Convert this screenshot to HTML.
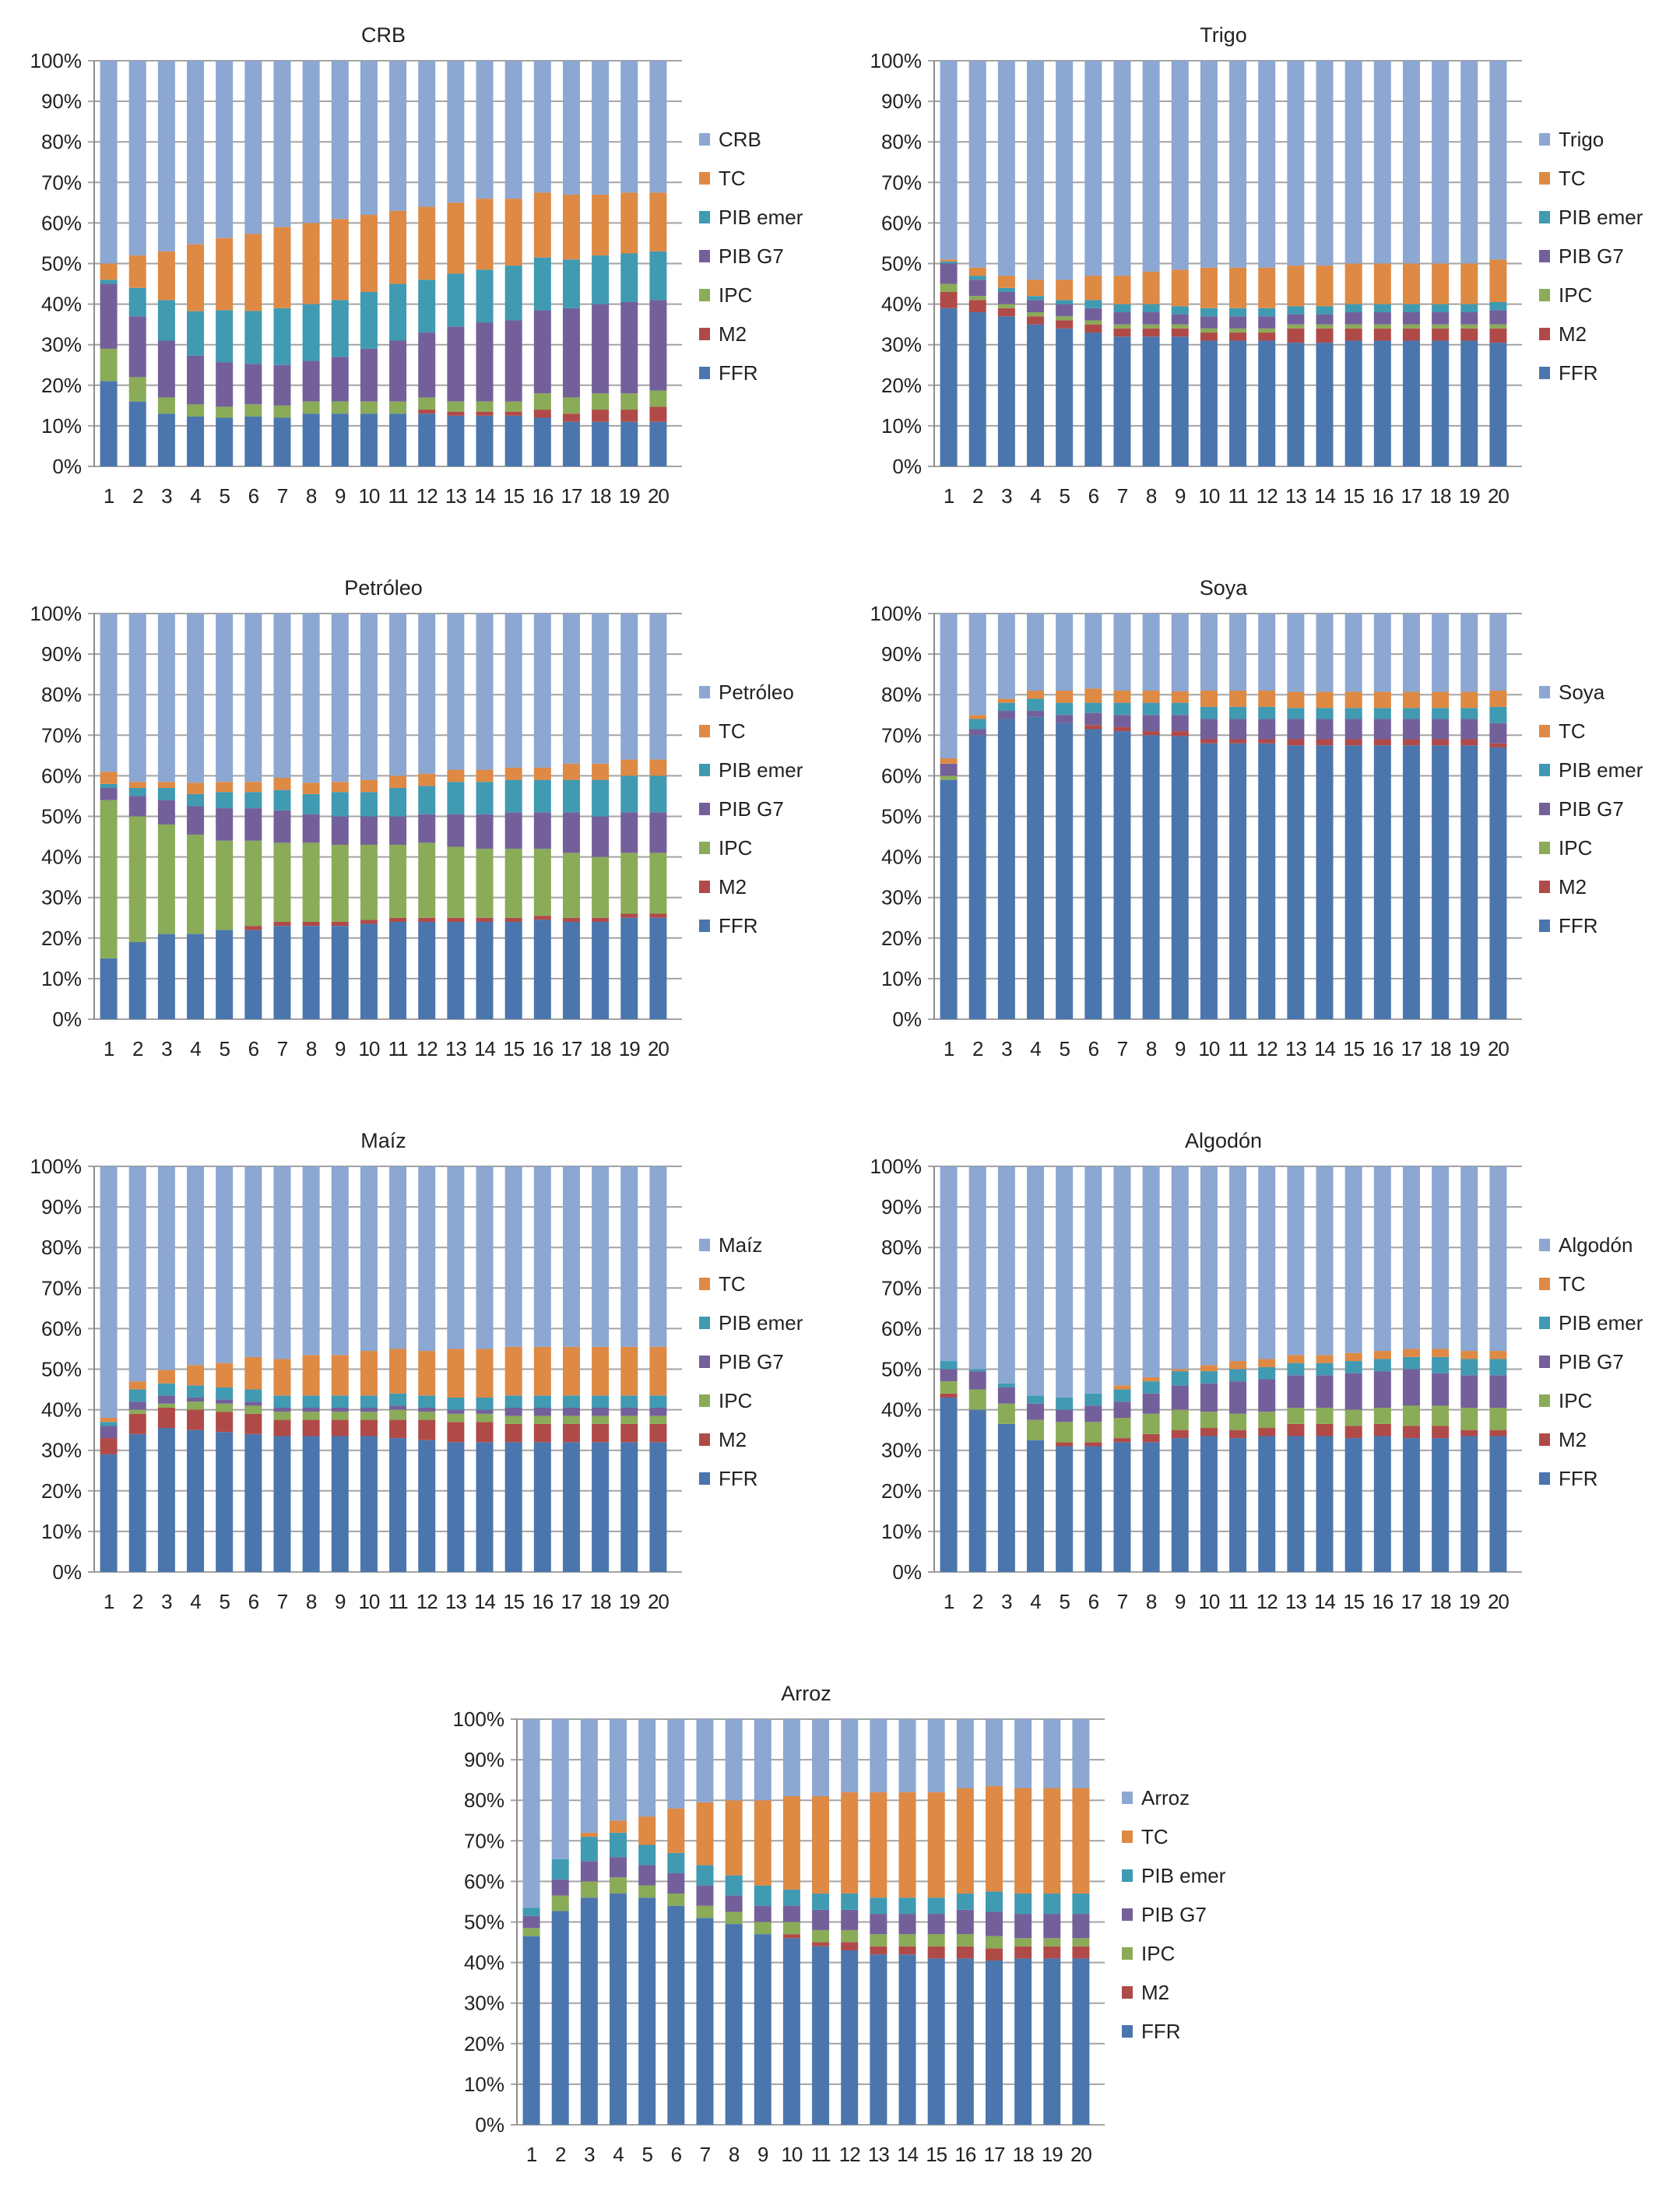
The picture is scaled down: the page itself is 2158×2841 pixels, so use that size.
<!DOCTYPE html>
<html><head><meta charset="utf-8">
<style>
html,body{margin:0;padding:0;background:#fff;}
svg{display:block;}
text{font-family:"Liberation Sans",sans-serif;fill:#222;}
</style></head>
<body>
<svg id="root" width="2158" height="2841" viewBox="0 0 2158 2841" xmlns="http://www.w3.org/2000/svg"></svg>
<script>
// Shared
const categories = [1,2,3,4,5,6,7,8,9,10,11,12,13,14,15,16,17,18,19,20];
const seriesNames = ["FFR","M2","IPC","PIB G7","PIB emer","TC"];
const seriesColors = ["#4a76ad","#b04a48","#8aab58","#73609a","#3f9ab2","#de8944","#8ba7d2"];
const yTickLabels = ["0%","10%","20%","30%","40%","50%","60%","70%","80%","90%","100%"];
const chartTitles = ["CRB","Trigo","Petróleo","Soya","Maíz","Algodón","Arroz"];

// Series order: FFR, M2, IPC, PIB G7, PIB emer, TC, commodity
const crbValues = [
 [21,16,13,12.3,12,12.3,12,13,13,13,13,13,12.5,12.5,12.5,12,11,11,11,11],
 [0,0,0,0,0,0,0,0,0,0,0,1,1,1,1,2,2,3,3,3.7],
 [8,6,4,3,2.7,3,3,3,3,3,3,3,2.5,2.5,2.5,4,4,4,4,4],
 [16,15,14,12,11,10,10,10,11,13,15,16,18.5,19.5,20,20.5,22,22,22.5,22.3],
 [1,7,10,11,12.8,13,14,14,14,14,14,13,13,13,13.5,13,12,12,12,12],
 [4,8,12,16.5,17.8,19,20,20,20,19,18,18,17.5,17.5,16.5,16,16,15,15,14.5],
 [50,48,47,45.3,43.7,42.7,41,40,39,38,37,36,35,34,34,32.5,33,33,32.5,32.5]
];
const trigoValues = [
 [39,38,37,35,34,33,32,32,32,31,31,31,30.5,30.5,31,31,31,31,31,30.5],
 [4,3,2,2,2,2,2,2,2,2,2,2,3.5,3.5,3,3,3,3,3,3.5],
 [2,1,1,1,1,1,1,1,1,1,1,1,1,1,1,1,1,1,1,1],
 [5,4,3,3,3,3,3,3,2.5,3,3,3,2.5,2.5,3,3,3,3,3,3.5],
 [0.5,1,1,1,1,2,2,2,2,2,2,2,2,2,2,2,2,2,2,2],
 [0.5,2,3,4,5,6,7,8,9,10,10,10,10,10,10,10,10,10,10,10.5],
 [49,51,53,54,54,53,53,52,51.5,51,51,51,50.5,50.5,50,50,50,50,50,49]
];
const petroleoValues = [
 [15,19,21,21,22,22,23,23,23,23.5,24,24,24,24,24,24.5,24,24,25,25],
 [0,0,0,0,0,1,1,1,1,1,1,1,1,1,1,1,1,1,1,1],
 [39,31,27,24.5,22,21,19.5,19.5,19,18.5,18,18.5,17.5,17,17,16.5,16,15,15,15],
 [3,5,6,7,8,8,8,7,7,7,7,7,8,8.5,9,9,10,10,10,10],
 [1,2,3,3,4,4,5,5,6,6,7,7,8,8,8,8,8,9,9,9],
 [3,1.5,1.5,2.8,2.5,2.5,3,2.8,2.5,3,3,3,3,3,3,3,4,4,4,4],
 [39,41.5,41.5,41.7,41.5,41.5,40.5,41.7,41.5,41,40,39.5,38.5,38.5,38,38,37,37,36,36]
];
const soyaValues = [
 [59,70,74,74.5,73,71.5,71,70,69.8,68,68,68,67.5,67.5,67.5,67.5,67.5,67.5,67.5,67],
 [0,0,0,0,0,1,1,1,1.2,1,1,1,1.5,1.5,1.5,1.5,1.5,1.5,1.5,1],
 [1,0,0,0,0,0,0,0,0,0,0,0,0,0,0,0,0,0,0,0],
 [3,1.5,2,1.5,2,3,3,4,4,5,5,5,5,5,5,5,5,5,5,5],
 [0,2.5,2,3,3,2.5,3,3,3,3,3,3,2.7,2.7,2.7,2.7,2.7,2.7,2.7,4],
 [1.3,1,1,2,3,3.5,3,3,2.8,4,4,4,4,4,4,4,4,4,4,4],
 [35.7,25,21,19,19,18.5,19,19,19.2,19,19,19,19.3,19.3,19.3,19.3,19.3,19.3,19.3,19]
];
const maizValues = [
 [29,34,35.5,35,34.5,34,33.5,33.5,33.5,33.5,33,32.5,32,32,32,32,32,32,32,32],
 [4,5,5,5,5,5,4,4,4,4,4.5,5,5,5,4.5,4.5,4.5,4.5,4.5,4.5],
 [0,1,1,2,2,2,2,2,2,2,2.5,2,2,2,2,2,2,2,2,2],
 [3,2,2,1,1,1,1,1,1,1,1,1,1,1,2,2,2,2,2,2],
 [1,3,3,3,3,3,3,3,3,3,3,3,3,3,3,3,3,3,3,3],
 [1,2,3.3,5,6,8,9,10,10,11,11,11,12,12,12,12,12,12,12,12],
 [62,53,50.2,49,48.5,47,47.5,46.5,46.5,45.5,45,45.5,45,45,44.5,44.5,44.5,44.5,44.5,44.5]
];
const algodonValues = [
 [43,40,36.5,32.5,31,31,32,32,33,33.5,33,33.5,33.5,33.5,33,33.5,33,33,33.5,33.5],
 [1,0,0,0,1,1,1,2,2,2,2,2,3,3,3,3,3,3,1.5,1.5],
 [3,5,5,5,5,5,5,5,5,4,4,4,4,4,4,4,5,5,5.5,5.5],
 [3,4.5,4,4,3,4,4,5,6,7,8,8,8,8,9,9,9,8,8,8],
 [2,0.5,1,2,3,3,3,3,3.5,3,3,3,3,3,3,3,3,4,4,4],
 [0,0,0,0,0,0,1,1,0.5,1.5,2,2,2,2,2,2,2,2,2,2],
 [48,50,53.5,56.5,57,56,54,52,50,49,48,47.5,46.5,46.5,46,45.5,45,45,45.5,45.5]
];
const arrozValues = [
 [46.5,52.7,56,57,56,54,51,49.5,47,46,44,43,42,42,41,41,40.5,41,41,41],
 [0,0,0,0,0,0,0,0,0,1,1,2,2,2,3,3,3,3,3,3],
 [2,3.8,4,4,3,3,3,3,3,3,3,3,3,3,3,3,3,2,2,2],
 [3,4,5,5,5,5,5,4,4,4,5,5,5,5,5,6,6,6,6,6],
 [2,5,6,6,5,5,5,5,5,4,4,4,4,4,4,4,5,5,5,5],
 [0,0,1,3,7,11,15.5,18.5,21,23,24,25,26,26,26,26,26,26,26,26],
 [46.5,34.5,28,25,24,22,20.5,20,20,19,19,18,18,18,18,17,16.5,17,17,17]
];
const allValues = [crbValues,trigoValues,petroleoValues,soyaValues,maizValues,algodonValues,arrozValues];

// Layout (not data)
const panelLeft = [121,1200,121,1200,121,1200,664];
const panelTop = [78,78,788,788,1498,1498,2208];
const PW = 743, PH = 521;
const NS = "http://www.w3.org/2000/svg";
const root = document.getElementById('root');

function mk(tag, attrs, parent){
  const e = document.createElementNS(NS, tag);
  for (const k in attrs) e.setAttribute(k, attrs[k]);
  parent.appendChild(e);
  return e;
}

allValues.forEach((vals, ci) => {
  const L = panelLeft[ci], T = panelTop[ci];
  const yScale = p => T + PH - p/100*PH;
  const cw = PW/categories.length;
  const xCenter = i => L + (i+0.5)*cw;
  const slug = chartTitles[ci].toLowerCase().normalize('NFD').replace(/[\u0300-\u036f]/g,'');

  const g = mk('g', {}, root);
  
  

  const title = mk('text', {x: L+PW/2, y: T-24, 'text-anchor':'middle', 'font-size':27}, g);
  title.textContent = chartTitles[ci];
  
  

  yTickLabels.forEach((lab, k) => {
    const y = yScale(k*10);
    const ln = mk('line', {x1: L-8, x2: L+PW+12, y1: y, y2: y, stroke:'#a3a3a3', 'stroke-width':2}, g);
    
    
    const t = mk('text', {x: L-16, y: y+9, 'text-anchor':'end', 'font-size':26}, g);
    t.textContent = lab;
    
    
  });
  const ax = mk('line', {x1: L, x2: L, y1: T, y2: T+PH, stroke:'#8c8c8c', 'stroke-width':2}, g);
  
  

  categories.forEach((c, i) => {
    let total = 0;
    vals.forEach(s => total += s[i]);
    let acc = 0;
    vals.forEach((s, si) => {
      const v = s[i]/total*100;
      if (v <= 0) return;
      const y1 = yScale(acc + v), y0 = yScale(acc);
      const r = mk('rect', {x: xCenter(i)-11, y: y1, width: 22, height: y0-y1, fill: seriesColors[si]}, g);
      
      
      acc += v;
    });
    const t = mk('text', {x: xCenter(i), y: T+PH+47, 'text-anchor':'middle', 'font-size':26, 'letter-spacing':-1}, g);
    t.textContent = c;
    
    
  });

  const legendNames = [chartTitles[ci]].concat(seriesNames.slice().reverse());
  legendNames.forEach((n, k) => {
    const si = 6 - k;
    const cy = T + 101 + k*50;
    const it = mk('g', {}, g);
    
    
    mk('rect', {x: L+777, y: cy-8, width: 14, height: 16, fill: seriesColors[si]}, it);
    const t = mk('text', {x: L+802, y: cy+9, 'font-size':26}, it);
    t.textContent = n;
  });
});
</script>
</body></html>
